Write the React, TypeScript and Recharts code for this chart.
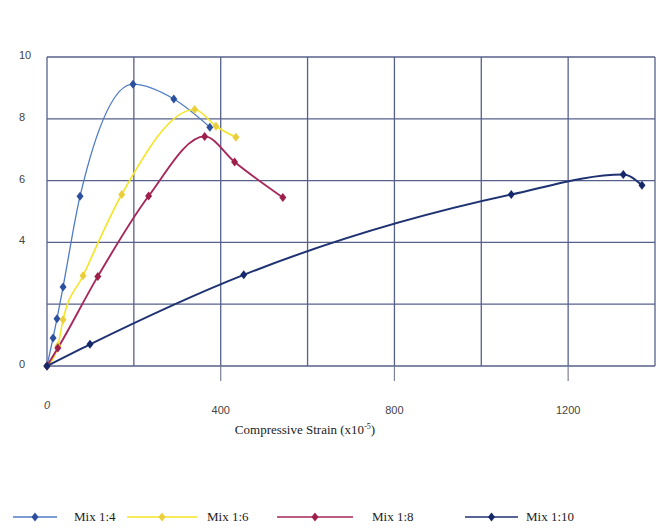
import React from 'react';
import { LineChart, Line, XAxis, YAxis, CartesianGrid, Legend } from 'recharts';

// Compressive strain (x10^-5) and stress values
const mix14Strain = [0, 14, 23, 37, 76, 198, 292, 375];
const mix14Stress = [0, 0.91, 1.53, 2.56, 5.49, 9.12, 8.64, 7.73];

const mix16Strain = [0, 25, 37, 83, 172, 340, 389, 435];
const mix16Stress = [0, 0.65, 1.5, 2.92, 5.55, 8.3, 7.76, 7.4];

const mix18Strain = [0, 25, 117, 234, 363, 432, 543];
const mix18Stress = [0, 0.58, 2.9, 5.5, 7.43, 6.6, 5.45];

const mix110Strain = [0, 99, 453, 1069, 1327, 1370];
const mix110Stress = [0, 0.7, 2.95, 5.55, 6.2, 5.85];

const seriesNames = ['Mix 1:4', 'Mix 1:6', 'Mix 1:8', 'Mix 1:10'];

const xTicks = [0, 200, 400, 600, 800, 1000, 1200, 1400];
const xTickLabels = ['0', '', '400', '', '800', '', '1200', ''];
const yTicks = [0, 2, 4, 6, 8, 10];
const yTickLabels = ['0', '', '4', '6', '8', '10'];

const xTitle = 'Compressive Strain (x10';
const xTitleSup = '-5';

const toPoints = (xs: number[], ys: number[]) => xs.map((x, i) => ({ x, y: ys[i] }));

const series = [
  { name: seriesNames[0], data: toPoints(mix14Strain, mix14Stress), line: '#4f7cc4', dot: '#2c4f9e', width: 1.3 },
  { name: seriesNames[1], data: toPoints(mix16Strain, mix16Stress), line: '#f4e526', dot: '#e9cf3c', width: 1.6 },
  { name: seriesNames[2], data: toPoints(mix18Strain, mix18Stress), line: '#a6285a', dot: '#9e1f4a', width: 1.9 },
  { name: seriesNames[3], data: toPoints(mix110Strain, mix110Stress), line: '#1e3272', dot: '#15286a', width: 2 },
];

const makeDiamond = (color: string) => (props: any) => {
  const { cx, cy, index } = props;
  if (cx == null || cy == null) return <g key={index} />;
  return (
    <polygon
      key={index}
      points={`${cx},${cy - 4.5} ${cx + 3.5},${cy} ${cx},${cy + 4.5} ${cx - 3.5},${cy}`}
      fill={color}
    />
  );
};

const XTick = (props: any) => {
  const { x, y, payload } = props;
  const i = xTicks.indexOf(payload.value);
  const label = xTickLabels[i];
  if (!label) return <g />;
  const isZero = payload.value === 0;
  return (
    <g>
      {!isZero && <line x1={x} y1={y} x2={x} y2={y + 15} stroke="#7b8199" strokeWidth={1.2} />}
      <text
        x={x}
        y={y + (isZero ? 43 : 48)}
        textAnchor="middle"
        fontFamily="'Liberation Sans', Arial, sans-serif"
        fontSize={11}
        fontStyle={isZero ? 'italic' : 'normal'}
        fill="#444"
      >
        {label}
      </text>
    </g>
  );
};

const YTick = (props: any) => {
  const { x, y, payload } = props;
  const i = yTicks.indexOf(payload.value);
  const label = yTickLabels[i];
  if (!label) return <g />;
  return (
    <text
      x={x - 28}
      y={y + 2}
      textAnchor="start"
      fontFamily="'Liberation Sans', Arial, sans-serif"
      fontSize={11}
      fill="#444"
    >
      {label}
    </text>
  );
};

const XTitle = (props: any) => {
  const { viewBox } = props;
  const cx = viewBox.x + 258;
  return (
    <text
      x={cx}
      y={434}
      textAnchor="middle"
      fontFamily="'Liberation Serif', 'Times New Roman', serif"
      fontSize={13}
      fill="#222"
    >
      {xTitle}
      <tspan fontSize={8} dy={-5}>{xTitleSup}</tspan>
      <tspan dy={5}>)</tspan>
    </text>
  );
};

const legendLayout = [
  { l1: 13, l2: 57, t: 74 },
  { l1: 127, l2: 197, t: 207 },
  { l1: 277, l2: 353, t: 372 },
  { l1: 465, l2: 518, t: 526 },
];

const LegendContent = () => (
  <svg width={663} height={24}>
    {series.map((s, i) => {
      const p = legendLayout[i];
      const mid = (p.l1 + p.l2) / 2;
      return (
        <g key={s.name}>
          <line x1={p.l1} y1={12} x2={p.l2} y2={12} stroke={s.line} strokeWidth={1.6} />
          <polygon points={`${mid},${7.5} ${mid + 3.5},12 ${mid},${16.5} ${mid - 3.5},12`} fill={s.dot} />
          <text
            x={p.t}
            y={16}
            fontFamily="'Liberation Serif', 'Times New Roman', serif"
            fontSize={13}
            fill="#222"
          >
            {s.name}
          </text>
        </g>
      );
    })}
  </svg>
);

export default function App() {
  return (
    <div style={{ position: 'absolute', left: 0, top: 0, width: 663, height: 531, background: '#fff' }}>
      <LineChart width={663} height={531} margin={{ top: 57, right: 8, bottom: 90, left: 7 }}>
        <CartesianGrid stroke="#56618b" strokeWidth={1.3} horizontalValues={yTicks} verticalValues={xTicks} />
        <XAxis
          type="number"
          dataKey="x"
          domain={[0, 1400]}
          ticks={xTicks}
          height={75}
          axisLine={false}
          tickLine={false}
          tickSize={0}
          tickMargin={0}
          tick={<XTick />}
          interval={0}
          allowDuplicatedCategory={false}
          label={<XTitle />}
        />
        <YAxis
          type="number"
          dataKey="y"
          domain={[0, 10]}
          ticks={yTicks}
          width={40}
          axisLine={false}
          tickLine={false}
          tickSize={0}
          tickMargin={0}
          tick={<YTick />}
          interval={0}
        />
        <Legend
          layout="horizontal"
          verticalAlign="middle"
          align="center"
          content={<LegendContent />}
          wrapperStyle={{ position: 'absolute', left: 0, top: 505, width: 663, height: 24 }}
        />
        {series.map((s) => (
          <Line
            key={s.name}
            name={s.name}
            data={s.data}
            dataKey="y"
            type="monotone"
            stroke={s.line}
            strokeWidth={s.width}
            dot={makeDiamond(s.dot)}
            activeDot={false}
            isAnimationActive={false}
          />
        ))}
      </LineChart>
    </div>
  );
}
